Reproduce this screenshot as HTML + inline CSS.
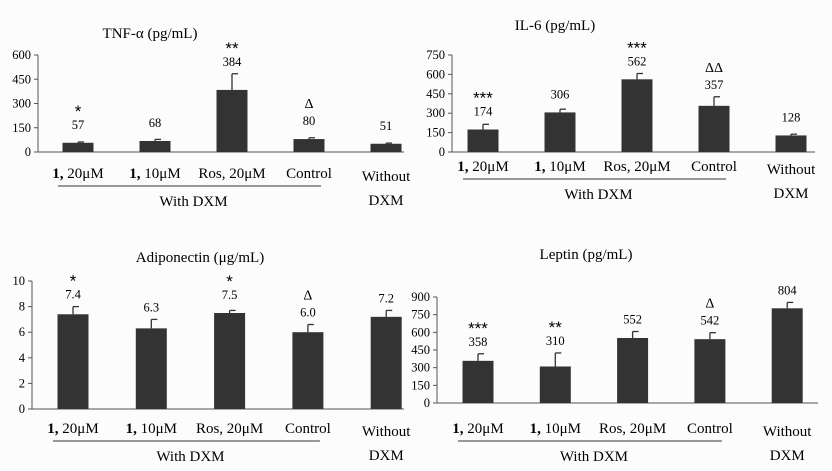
<!DOCTYPE html>
<html><head><meta charset="utf-8"><style>
body{margin:0;background:#fcfcfc}
svg{display:block;font-family:"Liberation Serif",serif}
</style></head><body>
<svg id="c" width="832" height="471"></svg>
<script>
const categories=["1, 20μM","1, 10μM","Ros, 20μM","Control","Without DXM"];
const tnfValues=[57,68,384,80,51];
const tnfErr=[5,10,100,8,4];
const tnfSig=["*","","**","Δ",""];
const tnfTicks=[0,150,300,450,600];
const il6Values=[174,306,562,357,128];
const il6Err=[40,25,45,70,10];
const il6Sig=["***","","***","ΔΔ",""];
const il6Ticks=[0,150,300,450,600,750];
const adipoValues=[7.4,6.3,7.5,6.0,7.2];
const adipoErr=[0.6,0.7,0.2,0.6,0.5];
const adipoLabels=["7.4","6.3","7.5","6.0","7.2"];
const adipoSig=["*","","*","Δ",""];
const adipoTicks=[0,2,4,6,8,10];
const leptinValues=[358,310,552,542,804];
const leptinErr=[60,115,55,55,50];
const leptinSig=["***","**","","Δ",""];
const leptinTicks=[0,150,300,450,600,750,900];

const svg=document.getElementById('c');
const NS='http://www.w3.org/2000/svg';
function mk(tag,at,txt){const e=document.createElementNS(NS,tag);for(const k in at)e.setAttribute(k,at[k]);if(txt!==undefined)e.textContent=txt;svg.appendChild(e);return e;}

function panel(p){
  const y=v=>p.y0-(v-p.min)/(p.max-p.min)*(p.y0-p.yTop);
  const t=mk('text',{x:p.titleX,y:p.titleY,'text-anchor':'middle','font-size':15});t.textContent=p.title;
  
  const ax=mk('line',{x1:p.ax,y1:y(p.ticks[p.ticks.length-1]),x2:p.ax,y2:p.y0,stroke:'#555'});
  
  const xa=mk('line',{x1:p.ax,y1:p.y0,x2:p.axEnd,y2:p.y0,stroke:'#555'});
  
  p.ticks.forEach(v=>{
    mk('line',{x1:p.ax-4,x2:p.ax,y1:y(v),y2:y(v),stroke:'#555'});
    const tl=mk('text',{x:p.ax-7,y:y(v)+4,'text-anchor':'end','font-size':12.5},String(v));
    
  });
  p.values.forEach((v,i)=>{
    const cx=p.ax+p.first+i*p.step, w=31;
    const b=mk('rect',{x:cx-w/2,y:y(v),width:w,height:p.y0-y(v),fill:'#333'});
    
    const et=y(v+p.err[i]);
    mk('line',{x1:cx,x2:cx,y1:y(v),y2:et,stroke:'#333','stroke-width':1.3});
    mk('line',{x1:cx,x2:cx+6,y1:et,y2:et,stroke:'#333','stroke-width':1.3});
    const ly=Math.min(et-8,y(v)-14);
    const vl=mk('text',{x:cx,y:ly,'text-anchor':'middle','font-size':12.5},p.labels?p.labels[i]:String(v));
    
    if(p.sig[i]){const star=p.sig[i].startsWith('*');
      const s=mk('text',{x:cx,y:star?ly-12:ly-17,'text-anchor':'middle','font-size':star?17:14,'font-family':star?'Liberation Sans,sans-serif':'Liberation Serif,serif'},p.sig[i]);
      }
    const tx=mk('text',{x:cx,y:p.labY,'text-anchor':'middle','font-size':15});
    if(i<4){
      if(categories[i].startsWith('1,')){const a=document.createElementNS(NS,'tspan');a.setAttribute('font-weight','bold');a.textContent='1,';tx.appendChild(a);const bb=document.createElementNS(NS,'tspan');bb.textContent=categories[i].slice(2);tx.appendChild(bb);}
      else tx.textContent=categories[i];
    } else {
      tx.setAttribute('y',p.labY+3);tx.textContent='Without';
      mk('text',{x:cx,y:p.labY+27,'text-anchor':'middle','font-size':15},'DXM');
    }
    
  });
  const ul=mk('line',{x1:p.ax+p.first-20,x2:p.ax+p.first+3*p.step+12,y1:p.labY+8,y2:p.labY+8,stroke:'#333'});
  
  const wd=mk('text',{x:p.ax+p.first+1.5*p.step,y:p.labY+28,'text-anchor':'middle','font-size':15},'With DXM');
  
}
panel({id:'tnf',title:'TNF-α (pg/mL)',titleX:150,titleY:38,values:tnfValues,err:tnfErr,sig:tnfSig,ticks:tnfTicks,min:0,max:600,ax:38,axEnd:404,y0:152,yTop:55,first:40,step:77,labY:178});
panel({id:'il6',title:'IL-6 (pg/mL)',titleX:555,titleY:30,values:il6Values,err:il6Err,sig:il6Sig,ticks:il6Ticks,min:0,max:750,ax:452,axEnd:815,y0:152,yTop:55,first:31,step:77,labY:171});
panel({id:'adipo',title:'Adiponectin (μg/mL)',titleX:200,titleY:262,values:adipoValues,err:adipoErr,labels:adipoLabels,sig:adipoSig,ticks:adipoTicks,min:0,max:10,ax:32,axEnd:404,y0:409,yTop:281,first:41,step:78.3,labY:433});
panel({id:'leptin',title:'Leptin (pg/mL)',titleX:586,titleY:259,values:leptinValues,err:leptinErr,sig:leptinSig,ticks:leptinTicks,min:0,max:900,ax:437,axEnd:818,y0:403,yTop:297,first:41,step:77.3,labY:433});
</script>
</body></html>
